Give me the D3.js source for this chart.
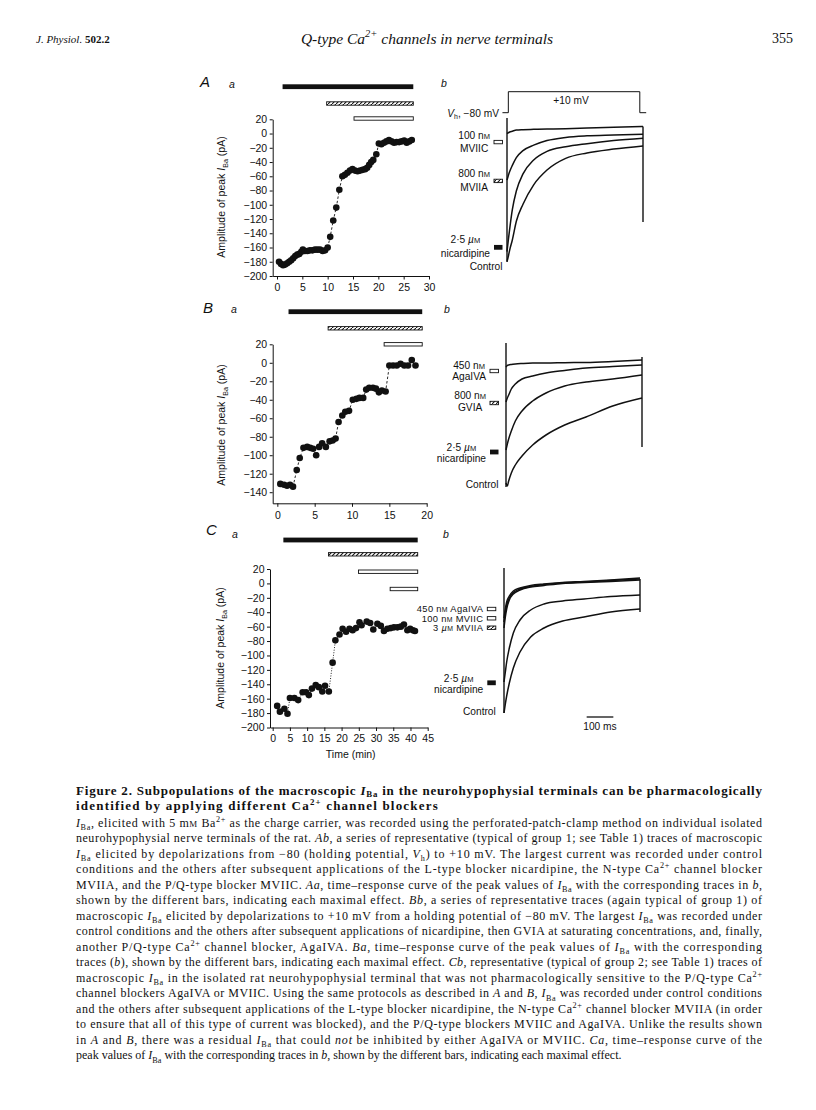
<!DOCTYPE html>
<html>
<head>
<meta charset="utf-8">
<script src="https://cdn.jsdelivr.net/npm/d3@7"></script>
<style>
body { margin: 0; background: #fff; }
svg text { font-family: "Liberation Sans", Arial, sans-serif; fill: #111; }
svg .serif { font-family: "Liberation Serif", "Times New Roman", serif; }
</style>
</head>
<body>
<svg id="page" width="816" height="1110"></svg>
<script>
// ---------- data: time-response curves (min, pA) ----------
var timeA = [0.4,0.8,1.2,1.6,2.0,2.4,2.8,3.2,3.6,4.0,4.4,4.8,5.1,5.5,6.0,6.5,7.0,7.5,8.0,8.5,9.0,9.5,10.0,10.5,11.1,11.7,12.3,12.9,13.4,13.9,14.4,14.9,15.4,15.9,16.4,16.9,17.4,17.8,18.2,18.6,19.0,19.6,20.1,20.6,21.1,21.6,22.1,22.6,23.1,23.6,24.1,24.6,25.1,25.6,26.1,26.6];
var ampA  = [-180,-183,-185,-184,-182,-180,-178,-175,-172,-170,-169,-166,-163,-165,-165,-164,-164,-163,-163,-163,-165,-164,-160,-145,-122,-104,-79,-60,-58,-55,-52,-50,-52,-53,-52,-51,-50,-48,-44,-40,-37,-29,-14,-15,-13,-11,-9,-11,-13,-12,-12,-11,-10,-13,-11,-9];

var timeB = [0.4,0.9,1.3,1.7,2.1,2.6,3.0,3.5,4.0,4.4,4.8,5.2,5.6,6.0,6.5,7.0,7.4,7.8,8.2,8.7,9.1,9.6,10.1,10.6,11.0,11.5,11.9,12.3,12.8,13.2,13.6,14.0,14.5,15.0,15.5,16.0,16.5,17.0,17.5,18.0,18.5];
var ampB  = [-131,-132,-133,-132,-134,-116,-103,-92,-91,-92,-93,-100,-91,-87,-91,-85,-84,-82,-64,-57,-53,-52,-40,-39,-38,-38,-29,-27,-27,-28,-32,-30,-31,-3,-3,-3,-1,-3,-3,3,-3];

var timeC = [1.3,2.1,3.4,4.3,5.0,6.3,7.4,8.7,9.7,10.5,11.4,12.5,13.4,14.4,15.2,16.3,17.4,18.2,19.4,20.3,21.3,22.3,23.2,24.2,25.2,25.8,27.3,28.3,29.2,30.4,31.4,32.3,33.3,34.3,35.2,36.2,37.2,38.1,39.1,39.9,40.7,41.3];
var ampC  = [-170,-178,-174,-181,-159,-159,-162,-151,-151,-155,-146,-141,-144,-150,-142,-150,-110,-79,-71,-63,-67,-63,-65,-62,-54,-58,-53,-55,-64,-56,-59,-66,-63,-62,-61,-61,-60,-57,-65,-63,-65,-66];

// drug application bars (start, end in min)
var barsA = [["solid",1.1,26.9],["hatch",9.8,26.9],["open",15.2,26.9]];
var barsB = [["solid",1.5,19.4],["hatch",6.8,19.4],["open",14.3,19.4]];
var barsC = [["solid",3.1,42.1],["hatch",16.2,42.1],["open",24.9,42.1],["open",34.1,42.1]];

// axis ticks
var xTicksA = [0,5,10,15,20,25,30];
var yTicksA = [20,0,-20,-40,-60,-80,-100,-120,-140,-160,-180,-200];
var xTicksB = [0,5,10,15,20];
var yTicksB = [20,0,-20,-40,-60,-80,-100,-120,-140];
var xTicksC = [0,5,10,15,20,25,30,35,40,45];
var yTicksC = [20,0,-20,-40,-60,-80,-100,-120,-140,-160,-180,-200];

// ---------- data: current traces (ms, pA) ----------
var traceMs = [0,5,10,20,35,60,100,150,220,300,400,510];
var ctrlA   = [-185,-178,-170,-157,-133,-111,-86,-67,-52,-45,-40,-36];
var nicA    = [-172,-157,-143,-118,-94,-72,-54,-43,-37,-33,-29,-26];
var mviiaA  = [-80,-74,-69,-61,-51,-42,-35,-29,-25,-23,-22,-21];
var mviicA  = [-20,-19,-18,-17,-15.5,-15,-14.6,-14.2,-13.8,-13,-12,-11];
var ctrlB   = [-128,-131,-126,-118,-110,-101,-90,-80,-70,-62,-51,-43];
var nicB    = [-95,-89,-84,-76,-66,-56,-46,-38,-31,-27,-24,-20];
var gviaB   = [-47,-43,-40,-34,-29,-24,-21,-18,-15.5,-13,-11.5,-10];
var agaB    = [-12,-10.5,-10,-9.5,-9,-8.5,-8,-8,-7.7,-7.5,-6.5,-5];
var ctrlC   = [-138,-129,-121,-108,-93,-77,-62,-53,-46,-42,-37,-34];
var nicC    = [-107,-97,-87,-73,-58,-45,-35,-29,-26,-24,-21.5,-20];
var mviiaC  = [-53,-42,-34,-25,-19,-15,-12,-10.5,-8.5,-7.5,-6.5,-5];
var mviicC  = [-47,-37,-30,-23,-17.5,-14,-11.5,-9.5,-8,-7,-5.5,-4];
var agaC    = [-43,-34,-27,-21,-16,-13,-10.5,-9,-7.5,-6.5,-5,-3];
// onset transient and tail current extent (pA)
var onsetA = [0,-185], tailA = [-11,-134];
var onsetB = [12,-132], tailB = [-2,-92];
var onsetC = [7,-138],  tailC = [-4,-37];
// voltage protocol (ms, mV)
var protoMs = [-17,5,5,498,498,522];
var protoMv = [-80,-80,10,10,-80,-80];

// ---------- caption ----------
var headerLeft = "J. Physiol.", headerVol = "502.2", headerPage = "355";
var headerTitle = "*Q-type Ca^{2+} channels in nerve terminals*";
var titleLines = [
  "Figure 2. Subpopulations of the macroscopic *I*_{Ba} in the neurohypophysial terminals can be pharmacologically",
  "identified by applying different Ca^{2+} channel blockers"
];
var bodyLines = [
  "*I*_{Ba}, elicited with 5 m#{M} Ba^{2+} as the charge carrier, was recorded using the perforated-patch-clamp method on individual isolated",
  "neurohypophysial nerve terminals of the rat. *Ab*, a series of representative (typical of group 1; see Table 1) traces of macroscopic",
  "*I*_{Ba} elicited by depolarizations from \u221280 (holding potential, *V*_{h}) to +10 mV. The largest current was recorded under control",
  "conditions and the others after subsequent applications of the L-type blocker nicardipine, the N-type Ca^{2+} channel blocker",
  "MVIIA, and the P/Q-type blocker MVIIC. *Aa*, time\u2013response curve of the peak values of *I*_{Ba} with the corresponding traces in *b*,",
  "shown by the different bars, indicating each maximal effect. *Bb*, a series of representative traces (again typical of group 1) of",
  "macroscopic *I*_{Ba} elicited by depolarizations to +10 mV from a holding potential of \u221280 mV. The largest *I*_{Ba} was recorded under",
  "control conditions and the others after subsequent applications of nicardipine, then GVIA at saturating concentrations, and, finally,",
  "another P/Q-type Ca^{2+} channel blocker, AgaIVA. *Ba*, time\u2013response curve of the peak values of *I*_{Ba} with the corresponding",
  "traces (*b*), shown by the different bars, indicating each maximal effect. *Cb*, representative (typical of group 2; see Table 1) traces of",
  "macroscopic *I*_{Ba} in the isolated rat neurohypophysial terminal that was not pharmacologically sensitive to the P/Q-type Ca^{2+}",
  "channel blockers AgaIVA or MVIIC. Using the same protocols as described in *A* and *B*, *I*_{Ba} was recorded under control conditions",
  "and the others after subsequent applications of the L-type blocker nicardipine, the N-type Ca^{2+} channel blocker MVIIA (in order",
  "to ensure that all of this type of current was blocked), and the P/Q-type blockers MVIIC and AgaIVA. Unlike the results shown",
  "in *A* and *B*, there was a residual *I*_{Ba} that could *not* be inhibited by either AgaIVA or MVIIC. *Ca*, time\u2013response curve of the",
  "peak values of *I*_{Ba} with the corresponding traces in *b*, shown by the different bars, indicating each maximal effect."
];

// ---------- helpers ----------
var svg = d3.select("#page");
var defs = svg.append("defs");
var pat = defs.append("pattern").attr("id", "hatch").attr("patternUnits", "userSpaceOnUse")
  .attr("width", 4).attr("height", 4);
pat.append("rect").attr("width", 4).attr("height", 4).attr("fill", "#fff");
pat.append("path").attr("d", "M-1,5 L5,-1").attr("stroke", "#111").attr("stroke-width", 1.1);

// rich text: *italic*, _{sub}, ^{sup}, #{small caps}
function rich(sel, str, size, subK, supK) {
  var parts = str.split(/(\*|_\{[^}]*\}|\^\{[^}]*\}|#\{[^}]*\})/);
  var it = false, shift = 0;
  subK = subK || 0.28; supK = supK || 0.42;
  parts.forEach(function(p) {
    if (!p) return;
    if (p === "*") { it = !it; return; }
    var txt = p, fs = null, s = 0;
    if (p.indexOf("_{") === 0) { txt = p.slice(2, -1); fs = 0.68; s = subK; }
    else if (p.indexOf("^{") === 0) { txt = p.slice(2, -1); fs = 0.68; s = -supK; }
    else if (p.indexOf("#{") === 0) { txt = p.slice(2, -1); fs = 0.74; }
    var t = sel.append("tspan").text(txt);
    if (it) t.attr("font-style", "italic");
    if (fs) t.attr("font-size", (fs * size) + "px");
    if (s !== shift) t.attr("dy", ((s - shift) * size).toFixed(2));
    shift = s;
  });
  return sel;
}

function bar(g, kind, x0, x1, yc) {
  var h = kind === "solid" ? 4.8 : 3.4;
  g.append("rect").attr("x", x0).attr("y", yc - h / 2).attr("width", x1 - x0).attr("height", h)
    .attr("fill", kind === "solid" ? "#111" : kind === "hatch" ? "url(#hatch)" : "#fff")
    .attr("stroke", "#111").attr("stroke-width", kind === "solid" ? 0 : 0.9);
}

// ---------- time-response panels ----------
function timePanel(o) {
  var g = svg.append("g");
  var x = d3.scaleLinear().domain(o.xd).range(o.xr);
  var y = d3.scaleLinear().domain(o.yd).range(o.yr);
  var xAxis = d3.axisBottom(x).tickValues(o.xt).tickSize(3.5).tickPadding(o.xpad).tickSizeOuter(0);
  var yAxis = d3.axisLeft(y).tickValues(o.yt).tickSize(3).tickPadding(2.5).tickSizeOuter(0);
  var ax = g.append("g").attr("transform", "translate(0," + o.yr[0] + ")").call(xAxis);
  var ay = g.append("g").attr("transform", "translate(" + o.xr[0] + ",0)").call(yAxis);
  [ax, ay].forEach(function(a) {
    a.selectAll("path,line").attr("stroke", "#111").attr("stroke-width", 1);
    a.selectAll("text").attr("font-size", "10.5px").attr("fill", "#111")
      .style("font-family", "'Liberation Sans', Arial, sans-serif");
  });
  g.append("path").datum(d3.zip(o.t, o.v))
    .attr("fill", "none").attr("stroke", "#111").attr("stroke-width", 0.9)
    .attr("stroke-dasharray", o.dash)
    .attr("d", d3.line().x(function(d) { return x(d[0]); }).y(function(d) { return y(d[1]); }));
  g.selectAll("circle").data(d3.zip(o.t, o.v)).enter().append("circle")
    .attr("cx", function(d) { return x(d[0]); }).attr("cy", function(d) { return y(d[1]); })
    .attr("r", 3.3).attr("fill", "#111");
  o.bars.forEach(function(b, i) { bar(g, b[0], x(b[1]), x(b[2]), o.barY[i]); });
  var lab = g.append("text").attr("font-size", "10.5px").attr("text-anchor", "middle")
    .attr("transform", "translate(" + o.labX + "," + o.labY + ") rotate(-90)");
  rich(lab, "Amplitude of peak *I*_{Ba} (pA)", 10.5);
  g.append("text").attr("x", o.letter[1]).attr("y", o.letter[2]).attr("font-size", "15px")
    .attr("font-style", "italic").text(o.letter[0]);
  g.append("text").attr("x", o.letter[3]).attr("y", o.letter[4]).attr("font-size", "10.5px")
    .attr("font-style", "italic").text("a");
  return { x: x, y: y, g: g };
}

timePanel({ xd: [-0.85, 30], xr: [272.7, 429], yd: [-200, 20], yr: [276, 119.3],
  xt: xTicksA, yt: yTicksA, xpad: 4.5, t: timeA, v: ampA, dash: "2.5,2",
  bars: barsA, barY: [86.7, 103.5, 118.5], labX: 225, labY: 197, letter: ["A", 200, 87, 229, 88] });
timePanel({ xd: [-0.62, 20], xr: [272.7, 426.7], yd: [-152, 20], yr: [503.3, 344.3],
  xt: xTicksB, yt: yTicksB, xpad: 4.5, t: timeB, v: ampB, dash: "2.5,2",
  bars: barsB, barY: [311.7, 328.3, 344.3], labX: 225, labY: 425, letter: ["B", 203, 313, 231, 313] });
var pc = timePanel({ xd: [-0.78, 45], xr: [270, 427.7], yd: [-200, 20], yr: [727.5, 569],
  xt: xTicksC, yt: yTicksC, xpad: 3.5, t: timeC, v: ampC, dash: "1,1.6",
  bars: barsC, barY: [540, 554.3, 571.7, 589], labX: 224, labY: 648, letter: ["C", 206, 535, 232, 538] });
pc.g.append("text").attr("x", 350.7).attr("y", 758).attr("text-anchor", "middle")
  .attr("font-size", "10.5px").text("Time (min)");

// ---------- current-trace panels ----------
function tracePanel(o) {
  var g = svg.append("g");
  var fsz = o.fs || 10.2;
  var x = d3.scaleLinear().domain([0, 510]).range(o.xr);
  var y = d3.scaleLinear().domain([0, o.ref]).range(o.yr);
  var line = d3.line().curve(d3.curveMonotoneX)
    .x(function(d) { return x(d[0]); }).y(function(d) { return y(d[1]); });
  o.traces.forEach(function(tr) {
    g.append("path").datum(d3.zip(traceMs, tr)).attr("d", line)
      .attr("fill", "none").attr("stroke", "#111").attr("stroke-width", 1.5)
      .attr("stroke-linejoin", "round");
  });
  g.append("line").attr("x1", x(0)).attr("x2", x(0)).attr("y1", y(o.onset[0])).attr("y2", y(o.onset[1]))
    .attr("stroke", "#111").attr("stroke-width", 1.4);
  g.append("line").attr("x1", x(510)).attr("x2", x(510)).attr("y1", y(o.tail[0])).attr("y2", y(o.tail[1]))
    .attr("stroke", "#111").attr("stroke-width", 1.4);
  // labels with marker bars
  o.labels.forEach(function(L) {
    var yc = y(L.at);
    var size = L.fs || fsz;
    if (L.kind) bar(g, L.kind, o.mk, o.mk + 8.5, yc);
    var texts = [];
    L.lines.forEach(function(s, i) {
      var t = g.append("text").attr("font-size", size + "px").attr("y", yc + L.dy[i] + size * 0.35);
      if (L.ls) t.attr("letter-spacing", L.ls);
      rich(t, s, size);
      texts.push(t);
    });
    var w = d3.max(texts, function(t) { return t.node().getComputedTextLength(); });
    var right = L.kind ? o.mk - 4 : o.mk + 8.5;
    texts.forEach(function(t) {
      if (L.align === "end") t.attr("x", right).attr("text-anchor", "end");
      else t.attr("x", right - w / 2).attr("text-anchor", "middle");
    });
  });
  g.append("text").attr("x", o.b[0]).attr("y", o.b[1]).attr("font-size", "10.5px")
    .attr("font-style", "italic").text("b");
  return { x: x, y: y, g: g };
}

var pa = tracePanel({ xr: [507, 643], yr: [118, 261.7], ref: -185,
  traces: [ctrlA, nicA, mviiaA, mviicA], onset: onsetA, tail: tailA, mk: 494, b: [441, 87],
  labels: [
    { lines: ["100 n#{M}", "MVIIC"], kind: "open", at: -31, dy: [-7, 6.8] },
    { lines: ["800 n#{M}", "MVIIA"], kind: "hatch", at: -81, dy: [-7, 6.3] },
    { lines: ["2\u00b75 *\u00b5*#{M}", "nicardipine"], kind: "solid", at: -166.5, dy: [-7.5, 6] },
    { lines: ["Control"], kind: null, at: -191, dy: [0], align: "end" }
  ] });
// voltage protocol above A b
var vy = d3.scaleLinear().domain([-80, 10]).range([112.7, 91.7]);
pa.g.append("path").datum(d3.zip(protoMs, protoMv)).attr("fill", "none").attr("stroke", "#111")
  .attr("stroke-width", 1)
  .attr("d", d3.line().x(function(d) { return pa.x(d[0]); }).y(function(d) { return vy(d[1]); }));
pa.g.append("text").attr("x", 571).attr("y", 104).attr("text-anchor", "middle")
  .attr("font-size", "10.2px").text("+10 mV");
rich(pa.g.append("text").attr("x", 499).attr("y", 116.5).attr("text-anchor", "end")
  .attr("font-size", "10.2px"), "*V*_{h}, \u221280 mV", 10.2);

tracePanel({ xr: [506, 642], yr: [355, 483], ref: -128,
  traces: [ctrlB, nicB, gviaB, agaB], onset: onsetB, tail: tailB, mk: 490, b: [444, 313],
  labels: [
    { lines: ["450 n#{M}", "AgaIVA"], kind: "open", at: -16, dy: [-6, 5.6] },
    { lines: ["800 n#{M}", "GVIA"], kind: "hatch", at: -48, dy: [-7.8, 4] },
    { lines: ["2\u00b75 *\u00b5*#{M}", "nicardipine"], kind: "solid", at: -97, dy: [-5, 6.6] },
    { lines: ["Control"], kind: null, at: -129, dy: [0], align: "end" }
  ] });

var pcb = tracePanel({ xr: [504, 640], yr: [575, 713], ref: -138,
  traces: [ctrlC, nicC, mviiaC, mviicC, agaC], onset: onsetC, tail: tailC, mk: 487.3, b: [443, 538],
  labels: [
    { lines: ["450 n#{M} AgaIVA"], kind: "open", at: -34, dy: [0], align: "end", fs: 9.3, ls: 0.35 },
    { lines: ["100 n#{M} MVIIC"], kind: "open", at: -43.3, dy: [0], align: "end", fs: 9.3, ls: 0.35 },
    { lines: ["3 *\u00b5*#{M} MVIIA"], kind: "hatch", at: -52.7, dy: [0], align: "end", fs: 9.3, ls: 0.35 },
    { lines: ["2\u00b75 *\u00b5*#{M}", "nicardipine"], kind: "solid", at: -107.8, dy: [-4.5, 7] },
    { lines: ["Control"], kind: null, at: -136.7, dy: [0], align: "end" }
  ] });
// 100 ms scale bar
pcb.g.append("line").attr("x1", pcb.x(310)).attr("x2", pcb.x(410)).attr("y1", 717).attr("y2", 717)
  .attr("stroke", "#111").attr("stroke-width", 1.3);
pcb.g.append("text").attr("x", pcb.x(360)).attr("y", 729.5).attr("text-anchor", "middle")
  .attr("font-size", "10.2px").text("100 ms");

// ---------- running head ----------
var hd = svg.append("text").attr("class", "serif").attr("x", 36).attr("y", 43).attr("font-size", "11px");
hd.append("tspan").attr("font-style", "italic").text(headerLeft + " ");
hd.append("tspan").attr("font-weight", "bold").text(headerVol);
rich(svg.append("text").attr("class", "serif").attr("x", 427).attr("y", 44).attr("text-anchor", "middle")
  .attr("font-size", "15.5px"), headerTitle, 15.5);
svg.append("text").attr("class", "serif").attr("x", 793).attr("y", 43).attr("text-anchor", "end")
  .attr("font-size", "14px").text(headerPage);

// ---------- caption ----------
var capL = 76, capR = 762, capSize = 12;
titleLines.forEach(function(s, i) {
  var t = svg.append("text").attr("class", "serif").attr("x", capL).attr("y", 794.5 + i * 15)
    .attr("font-size", "13px").attr("font-weight", "bold");
  rich(t, s, 13, 0.2, 0.34);
  if (i < titleLines.length - 1) t.attr("textLength", capR - capL).attr("lengthAdjust", "spacing");
  else t.attr("letter-spacing", 1.2);
});
bodyLines.forEach(function(s, i) {
  var t = svg.append("text").attr("class", "serif").attr("x", capL).attr("y", 826.7 + i * 15.5)
    .attr("font-size", capSize + "px");
  rich(t, s, capSize);
  if (i < bodyLines.length - 1) t.attr("textLength", capR - capL).attr("lengthAdjust", "spacing");
});
</script>
</body>
</html>
